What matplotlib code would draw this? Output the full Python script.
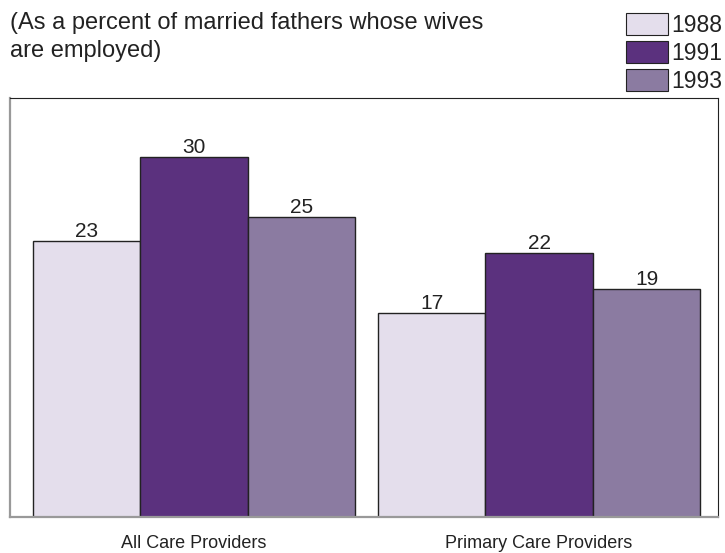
import matplotlib.pyplot as plt
import matplotlib.patches as patches
import numpy as np

plt.rcParams['font.family'] = ['Liberation Sans', 'DejaVu Sans']

groups = ["All Care Providers", "Primary Care Providers"]
years = ["1988", "1991", "1993"]
values = {
    "1988": [23, 17],
    "1991": [30, 22],
    "1993": [25, 19],
}
colors = ["#E4DEEC", "#5B317E", "#8B7BA1"]

W, H = 725, 553
fig = plt.figure(figsize=(W / 100, H / 100), dpi=100)
ax = fig.add_axes([10 / W, 36 / H, 708 / W, 419 / H])

x = np.arange(len(groups))
width = 0.3116
for i, yr in enumerate(years):
    bars = ax.bar(x + (i - 1) * width, values[yr], width, color=colors[i],
                  edgecolor="#222222", linewidth=1.0, label=yr)
    ax.bar_label(bars, padding=0, fontsize=15, color="#222222")

ax.set_xlim(-0.5333, 1.5188)
ax.set_ylim(0, 34.9)
ax.set_yticks([])
ax.set_xticks(x)
ax.set_xticklabels(groups, fontsize=13, color="#222222")
ax.tick_params(axis="x", length=0, pad=13)

for s in ["left", "bottom"]:
    ax.spines[s].set_color("#999999")
    ax.spines[s].set_linewidth(1.6)
for s in ["top", "right"]:
    ax.spines[s].set_color("#222222")
    ax.spines[s].set_linewidth(0.8)

fig.text(10 / W, 1 - 12 / H, "(As a percent of married fathers whose wives\nare employed)",
         ha="left", va="top", fontsize=17, color="#222222", linespacing=1.35)

# legend drawn by hand: boxes on the left, year to the right
for i, yr in enumerate(years):
    top = 13 + 28 * i
    fig.add_artist(patches.Rectangle((626 / W, 1 - (top + 22) / H), 42 / W, 22 / H,
                                     transform=fig.transFigure, facecolor=colors[i],
                                     edgecolor="#222222", linewidth=0.8))
    fig.text(671 / W, 1 - (top + 12) / H, yr, ha="left", va="center",
             fontsize=16.5, color="#222222")

fig.savefig("out.png", dpi=100)
